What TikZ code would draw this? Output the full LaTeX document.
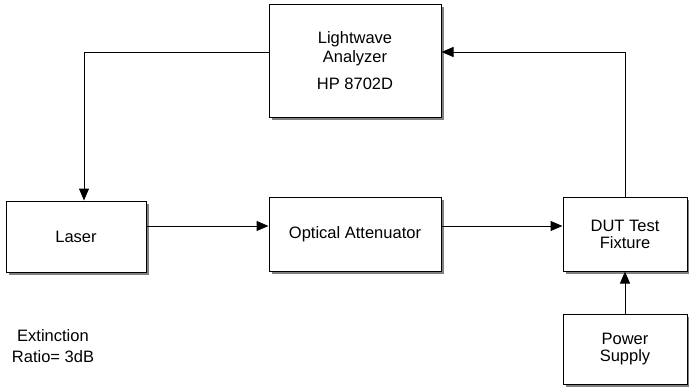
\documentclass[tikz,border=0pt]{standalone}
\usepackage{fontspec}
\setmainfont{Liberation Sans}
\usetikzlibrary{arrows.meta,shadows}
\begin{document}
\begin{tikzpicture}[x=1pt,y=-1pt,
  blk/.style={draw=black, line width=1pt, fill=white, inner sep=0pt, align=center,
    font=\fontsize{16.5}{17}\selectfont,
    drop shadow={shadow xshift=2.5pt, shadow yshift=-2.5pt, fill=black!50, opacity=1}},
  conn/.style={line width=1pt, -{Triangle[length=12pt,width=10pt]}},
  lbl/.style={align=center, inner sep=0pt, font=\fontsize{16.5}{21}\selectfont}]
\useasboundingbox (0,0) rectangle (689,388);
\node[blk, minimum width=172pt, minimum height=113pt, font=\fontsize{16.5}{18}\selectfont] (lw) at (355,60.5)
  {\raisebox{-3pt}{\shortstack{Lightwave\\Analyzer\\[9pt]HP 8702D}}};
\node[blk, minimum width=140pt, minimum height=71pt] (laser) at (76,236.5) {Laser};
\node[blk, minimum width=172pt, minimum height=74pt] (att) at (355,234) {Optical Attenuator};
\node[blk, minimum width=124pt, minimum height=74pt] (dut) at (625,234) {DUT Test\\Fixture};
\node[blk, minimum width=124pt, minimum height=70pt] (ps) at (625,349) {Power\\Supply};
\node[lbl] (ext) at (53,346) {Extinction\\Ratio= 3dB};
\coordinate (c1) at (84,52);
\coordinate (c2) at (625,52);
\draw[conn] (lw.west |- c1) -- (c1) -- (c1 |- laser.north);
\draw[conn] (laser.east |- 0,226) -- (att.west |- 0,226);
\draw[conn] (att.east |- 0,226) -- (dut.west |- 0,226);
\draw[conn] (dut.north) -- (c2) -- (lw.east |- c2);
\draw[conn] (ps.north) -- (dut.south);
\end{tikzpicture}
\end{document}
